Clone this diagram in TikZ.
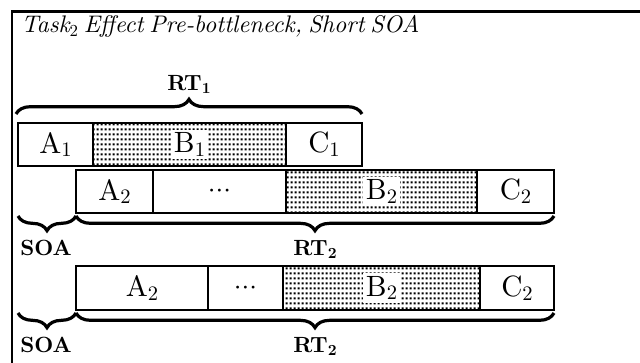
\documentclass[tikz,border=0pt]{standalone}
\usepackage{fontspec}
% Latin Modern at its 10pt design size, scaled up
\setmainfont{lmroman10-regular.otf}[
  ItalicFont=lmroman10-italic.otf,
  BoldFont=lmroman10-bold.otf]
\usetikzlibrary{fit,patterns,decorations.pathreplacing}

% subscript set in the current text font, scaled freely
\newcommand{\lowidx}[1]{\raisebox{-0.3ex}{\fontsize{0.7\dimexpr\fontdimen6\font\relax}{0pt}\selectfont\upshape #1}}
% three tight centred dots
\newcommand{\middots}{$\mathord{\cdot}\mathord{\cdot}\mathord{\cdot}$}

% fine grid of square dots used to shade the bottleneck stages
\pgfdeclarepatternformonly{boxdots}{\pgfpointorigin}{\pgfqpoint{3.3pt}{4pt}}{\pgfqpoint{3.3pt}{4pt}}{%
  \pgfpathrectangle{\pgfqpoint{0.5pt}{0.5pt}}{\pgfqpoint{1.7pt}{1.7pt}}\pgfusepath{fill}}

\begin{document}
\begin{tikzpicture}[x=0.75pt,y=-0.75pt,
  stage/.style={draw, line width=1.6pt, inner sep=0pt},
  shaded/.style={stage, pattern=boxdots},
  lbl/.style={font=\fontsize{22}{25}\selectfont, inner sep=1pt},
  dotlbl/.style={lbl, fill=white, inner sep=2pt},
  curlyup/.style={decorate, decoration={brace, amplitude=11pt}, line width=2.4pt},
  curlydown/.style={decorate, decoration={brace, amplitude=11pt, mirror}, line width=2.4pt},
  tag/.style={font=\fontsize{16.5}{19}\selectfont\bfseries, inner sep=0pt}]

\useasboundingbox (0,0) rectangle (640,363);

% open frame: left and top rules
\draw[line width=2.2pt, line join=miter] (12,363) -- (12,11.5) -- (640,11.5);

% heading
\node[anchor=base west, inner sep=0pt, font=\fontsize{18}{22}\selectfont\itshape]
  (title) at (21,33) {\makebox[297pt][s]{Task\lowidx{2} Effect Pre-bottleneck, Short SOA}};

% task 1
\node[stage,  fit={(18,123) (93,166)}]  (a1) {};
\node[shaded, fit={(93,123) (286,166)}] (b1) {};
\node[stage,  fit={(286,123) (362,166)}] (c1) {};
\node[lbl]    (a1t) at (a1.center) {A\lowidx{1}};
\node[dotlbl] (b1t) at (b1.center) {B\lowidx{1}};
\node[lbl]    (c1t) at (c1.center) {C\lowidx{1}};

% task 2, first timeline
\node[stage,  fit={(76,170) (153,213)}]  (a2) {};
\node[stage,  fit={(153,170) (286,213)}] (d2) {};
\node[shaded, fit={(286,170) (477,213)}] (b2) {};
\node[stage,  fit={(477,170) (554,213)}] (c2) {};
\node[lbl]    (a2t) at (a2.center) {A\lowidx{2}};
\node[lbl]    (d2t) at (d2.center) {\middots};
\node[dotlbl] (b2t) at (b2.center) {B\lowidx{2}};
\node[lbl]    (c2t) at (c2.center) {C\lowidx{2}};

% task 2, second timeline
\node[stage,  fit={(76,266) (208,310)}]  (a3) {};
\node[stage,  fit={(208,266) (283,310)}] (d3) {};
\node[shaded, fit={(283,266) (480,310)}] (b3) {};
\node[stage,  fit={(480,266) (554,310)}] (c3) {};
\node[lbl]    (a3t) at (a3.center) {A\lowidx{2}};
\node[lbl]    (d3t) at (d3.center) {\middots};
\node[dotlbl] (b3t) at (b3.center) {B\lowidx{2}};
\node[lbl]    (c3t) at (c3.center) {C\lowidx{2}};

% brace ends
\coordinate (rt1l) at (16,114);
\coordinate (rt1r) at (362,114);
\coordinate (s1l) at (18,216);
\coordinate (s1r) at (76,216);
\coordinate (r1r) at (554,216);
\coordinate (s2l) at (18,313);
\coordinate (s2r) at (76,313);
\coordinate (r2r) at (554,313);

\draw[curlyup] (rt1l) -- (rt1r);
\node[tag, anchor=base] (rt1) at (189,91) {RT\lowidx{1}};

\draw[curlydown] (s1l) -- (s1r);
\draw[curlydown] (s1r) -- (r1r);
\node[tag, anchor=base west] (soa1) at (20,256) {SOA};
\node[tag, anchor=base] (rt2a) at (315,256) {RT\lowidx{2}};

\draw[curlydown] (s2l) -- (s2r);
\draw[curlydown] (s2r) -- (r2r);
\node[tag, anchor=base west] (soa2) at (20,353) {SOA};
\node[tag, anchor=base] (rt2b) at (315,353) {RT\lowidx{2}};
\end{tikzpicture}
\end{document}
